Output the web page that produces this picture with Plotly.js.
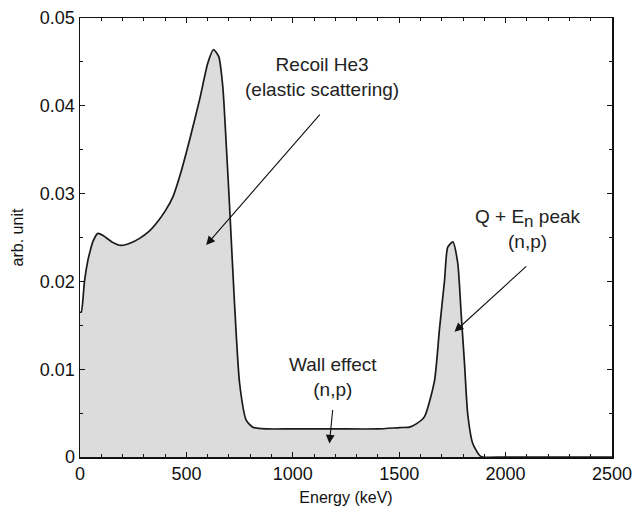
<!DOCTYPE html>
<html>
<head>
<meta charset="utf-8">
<script src="https://cdn.plot.ly/plotly-3.0.1.min.js"></script>
<style>html,body{margin:0;padding:0;background:#fff;}#chart{width:634px;height:508px;}</style>
</head>
<body>
<div id="chart"></div>
<script>
// Energy (keV) and spectrum values (arb. unit)
const energy = [0, 6, 21, 37, 45, 60, 84, 110, 150, 194, 240, 280, 320, 358, 400, 436, 475, 515, 562, 601, 627, 652, 671, 687, 703, 725, 750, 781, 812, 875, 1000, 1200, 1400, 1503, 1548, 1582, 1619, 1666, 1689, 1713, 1728, 1752, 1775, 1791, 1807, 1822, 1846, 1877, 1892, 2000, 2500];
const counts = [0.0165, 0.0165, 0.0200, 0.0224, 0.0232, 0.0245, 0.02547, 0.0252, 0.0245, 0.0241, 0.0244, 0.0249, 0.0256, 0.0266, 0.0280, 0.0296, 0.0325, 0.0361, 0.0407, 0.0449, 0.0464, 0.0456, 0.0422, 0.0357, 0.0285, 0.0180, 0.0084, 0.0042, 0.0034, 0.0032, 0.0032, 0.0032, 0.0032, 0.00335, 0.0034, 0.0038, 0.0046, 0.0087, 0.0145, 0.0201, 0.0239, 0.0245, 0.0221, 0.0164, 0.0106, 0.0049, 0.0015, 0.0002, 0, 0, 0];

const xTicks = [0, 500, 1000, 1500, 2000, 2500];
const yTicks = [0, 0.01, 0.02, 0.03, 0.04, 0.05];
const yTickText = ['0', '0.01', '0.02', '0.03', '0.04', '0.05'];

const labels = [
  {text: 'Recoil He3<br>(elastic scattering)', x: 1135, y: 0.0433},
  {text: 'Q + E<sub><span style="font-size:17px">n</span></sub> peak<br>(n,p)', x: 2105, y: 0.0260},
  {text: 'Wall effect<br>(n,p)', x: 1191, y: 0.00915}
];
const arrows = [
  {x: 593, y: 0.02414, ax: 1133, ay: 0.03916},
  {x: 1760, y: 0.01426, ax: 2104, ay: 0.02186},
  {x: 1172, y: 0.00153, ax: 1188, ay: 0.00552}
];

const font = 'Liberation Sans, Arial, Helvetica, sans-serif';

const trace = {
  x: energy, y: counts, type: 'scatter', mode: 'lines',
  fill: 'tozeroy', fillcolor: '#dcdcdc',
  line: {color: '#1a1a1a', width: 1.7, shape: 'spline', smoothing: 0.6},
  hoverinfo: 'skip', showlegend: false
};

const annotations = [];
labels.forEach(l => annotations.push({
  x: l.x, y: l.y, xref: 'x', yref: 'y', text: l.text, showarrow: false,
  font: {family: font, size: 19, color: '#222'}, align: 'center'
}));
arrows.forEach(a => annotations.push({
  x: a.x, y: a.y, ax: a.ax, ay: a.ay, xref: 'x', yref: 'y', axref: 'x', ayref: 'y',
  text: '', showarrow: true, arrowhead: 2, arrowsize: 1.6, arrowwidth: 1.1, arrowcolor: '#111', standoff: 0
}));

const axisCommon = {
  showgrid: false, zeroline: false, showline: true, linecolor: '#111', linewidth: 1.5,
  mirror: 'ticks', ticks: 'inside', ticklen: 5, tickwidth: 1.2, tickcolor: '#111',
  tickfont: {family: font, size: 18, color: '#111'}
};

const layout = {
  width: 634, height: 508,
  margin: {l: 80, r: 22, t: 18, b: 51},
  paper_bgcolor: '#fff', plot_bgcolor: '#fff',
  xaxis: Object.assign({}, axisCommon, {
    range: [0, 2500], tickvals: xTicks, ticktext: xTicks.map(String),
    minor: {ticks: 'inside', ticklen: 3, dtick: 100, tick0: 0, tickcolor: '#111', tickwidth: 1},
    title: {text: 'Energy (keV)', font: {family: font, size: 16, color: '#111'}, standoff: 8}
  }),
  yaxis: Object.assign({}, axisCommon, {
    range: [0, 0.05], tickvals: yTicks, ticktext: yTickText,
    minor: {ticks: 'inside', ticklen: 3, dtick: 0.005, tick0: 0, tickcolor: '#111', tickwidth: 1},
    title: {text: 'arb. unit', font: {family: font, size: 16, color: '#111'}, standoff: 12}
  }),
  annotations: annotations
};

Plotly.newPlot('chart', [trace], layout, {staticPlot: true, displayModeBar: false});
</script>
</body>
</html>
